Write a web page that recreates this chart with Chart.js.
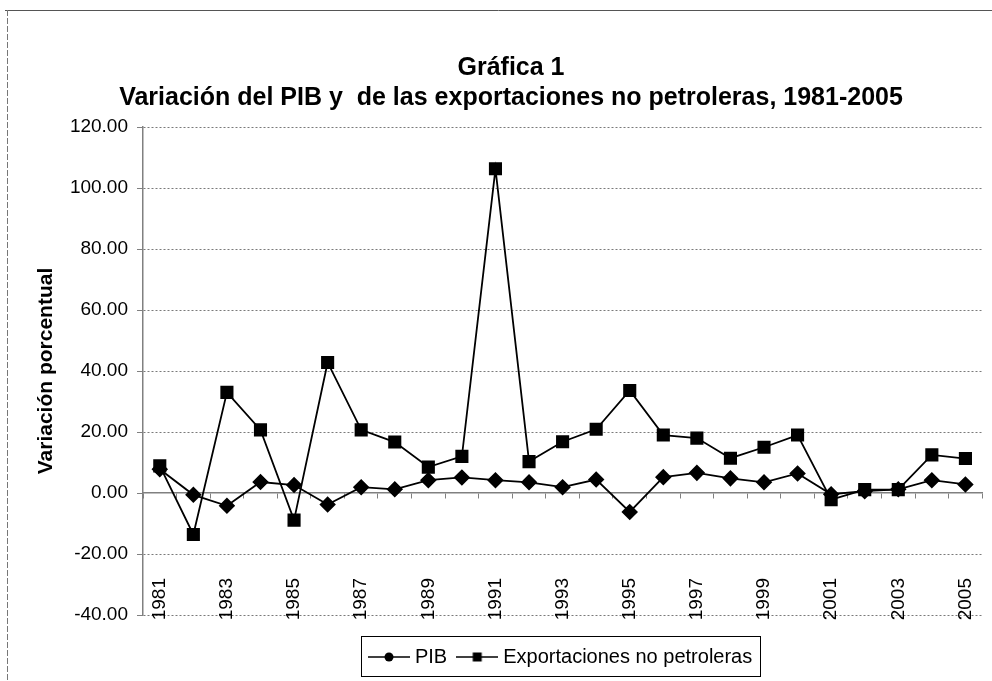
<!DOCTYPE html>
<html><head><meta charset="utf-8">
<script src="https://cdn.jsdelivr.net/npm/chart.js@4.4.1/dist/chart.umd.min.js"></script>
<style>html,body{margin:0;padding:0;background:#fff;}</style>
</head><body>
<canvas id="c" width="992" height="681"></canvas>
<script>
// ---- data ----
const years = ['1981','1982','1983','1984','1985','1986','1987','1988','1989','1990','1991','1992','1993','1994','1995','1996','1997','1998','1999','2000','2001','2002','2003','2004','2005'];
const pib = [7.8, -0.6, -4.2, 3.6, 2.6, -3.8, 1.9, 1.2, 4.2, 5.1, 4.2, 3.5, 1.9, 4.4, -6.2, 5.2, 6.6, 4.8, 3.5, 6.4, -0.4, 0.6, 1.2, 4.2, 2.8];
const exportaciones = [8.9, -13.6, 33.0, 20.7, -8.9, 42.8, 20.7, 16.7, 8.5, 12.0, 106.3, 10.3, 16.8, 20.9, 33.6, 19.0, 18.0, 11.4, 15.0, 19.0, -2.2, 1.1, 1.1, 12.5, 11.3];
const yMin = -40, yMax = 120, yStep = 20;
const titleLines = ['Gráfica 1', 'Variación del PIB y  de las exportaciones no petroleras, 1981-2005'];
const yTitle = 'Variación porcentual';
const seriesNames = ['PIB', 'Exportaciones no petroleras'];

const SANS = '"Liberation Sans", Arial, sans-serif';

function legendSymbol(kind){
  const c = document.createElement('canvas');
  c.width = 42; c.height = 14;
  const g = c.getContext('2d');
  g.strokeStyle = '#000'; g.lineWidth = 1.6;
  g.beginPath(); g.moveTo(0,7); g.lineTo(42,7); g.stroke();
  g.fillStyle = '#000';
  if (kind === 'circle'){ g.beginPath(); g.arc(21,7,4.5,0,Math.PI*2); g.fill(); }
  else { g.fillRect(16.5,2.5,9,9); }
  return c;
}
const symbols = [legendSymbol('circle'), legendSymbol('rect')];

const framePlugin = {
  id: 'frame',
  beforeDraw(chart){
    const ctx = chart.ctx;
    ctx.save();
    ctx.fillStyle = '#fff';
    ctx.fillRect(0,0,chart.width,chart.height);
    ctx.strokeStyle = '#555'; ctx.lineWidth = 1;
    ctx.beginPath(); ctx.moveTo(5,10.5); ctx.lineTo(chart.width,10.5); ctx.stroke();
    ctx.strokeStyle = '#777';
    ctx.setLineDash([6,2]);
    ctx.beginPath(); ctx.moveTo(7.5,10); ctx.lineTo(7.5,chart.height); ctx.stroke();
    ctx.restore();
  },
  afterDraw(chart){
    const lg = chart.legend;
    if (!lg || !lg.legendHitBoxes || !lg.legendHitBoxes.length) return;
    const hb = lg.legendHitBoxes;
    const last = hb[hb.length-1];
    const l = hb[0].left - 12, r = last.left + last.width + 8;
    const cy = hb[0].top + hb[0].height/2;
    const ctx = chart.ctx;
    ctx.save();
    ctx.strokeStyle = '#000'; ctx.lineWidth = 1;
    ctx.strokeRect(Math.round(l)+0.5, Math.round(cy-21)+0.5, Math.round(r-l), 40);
    ctx.restore();
  }
};

new Chart(document.getElementById('c'), {
  type: 'line',
  data: {
    labels: years,
    datasets: [
      { label: seriesNames[0], data: pib, borderColor:'#000', backgroundColor:'#000', borderWidth:1.8,
        pointStyle:'rectRot', pointRadius:7, pointBackgroundColor:'#000', pointBorderColor:'#000', tension:0 },
      { label: seriesNames[1], data: exportaciones, borderColor:'#000', backgroundColor:'#000', borderWidth:1.8,
        pointStyle:'rect', pointRadius:8, pointBackgroundColor:'#000', pointBorderColor:'#000', tension:0 }
    ]
  },
  options: {
    responsive:false, animation:false, devicePixelRatio:1,
    layout:{ padding:{ left:30, right:0, top:0, bottom:4 } },
    plugins:{
      title:{ display:true, text:titleLines, color:'#000',
        font:{ family:SANS, size:25, weight:'bold', lineHeight:'30px' },
        padding:{ top:53, bottom:14 } },
      legend:{ display:true, position:'bottom', fullSize:false,
        labels:{ color:'#000', font:{ family:SANS, size:20 }, usePointStyle:true, pointStyleWidth:32, padding:14,
          generateLabels:(chart)=> chart.data.datasets.map((d,i)=>({
            text:d.label, pointStyle:symbols[i], fillStyle:'#000', strokeStyle:'#000', lineWidth:0,
            hidden:false, datasetIndex:i, fontColor:'#000' })) } },
      tooltip:{ enabled:false }
    },
    scales:{
      x:{ type:'category', offset:true, position:{ y:yMin },
        grid:{ display:false, drawTicks:false },
        border:{ display:false },
        ticks:{ autoSkip:false, minRotation:90, maxRotation:90, padding:-37, color:'#000',
          font:{ family:SANS, size:19 },
          callback:(v,i)=> (i % 2 === 0 ? years[i] : '') } },
      x2:{ type:'category', axis:'x', labels:years, offset:true, position:{ y:0 },
        grid:{ display:true, drawOnChartArea:false, drawTicks:true, tickLength:5, offset:true,
          color:'#808080', tickColor:'#808080' },
        border:{ display:true, color:'#808080', width:1.5 },
        ticks:{ display:false } },
      gap:{ type:'category', axis:'x', labels:years, position:'bottom', display:true,
        grid:{ display:false, drawTicks:false }, border:{ display:false }, ticks:{ display:false },
        afterFit:(s)=>{ s.height = 18; } },
      y:{ min:yMin, max:yMax,
        ticks:{ stepSize:yStep, padding:9, color:'#000', font:{ family:SANS, size:19 },
          callback:(v)=> Number(v).toFixed(2) },
        grid:{ color:(ctx)=> (ctx.tick && ctx.tick.value === 0 ? 'rgba(0,0,0,0)' : '#7a7a7a'),
          tickLength:6, tickColor:'#808080', drawTicks:true, lineWidth:1 },
        border:{ display:true, color:'#808080', width:1.5, dash:[2,2] },
        title:{ display:true, text:yTitle, color:'#000', font:{ family:SANS, size:21, weight:'bold' },
          padding:{ top:4, bottom:0 } },
        afterFit:(s)=>{ s.width = 113; } }
    }
  },
  plugins:[framePlugin]
});
</script>
</body></html>
